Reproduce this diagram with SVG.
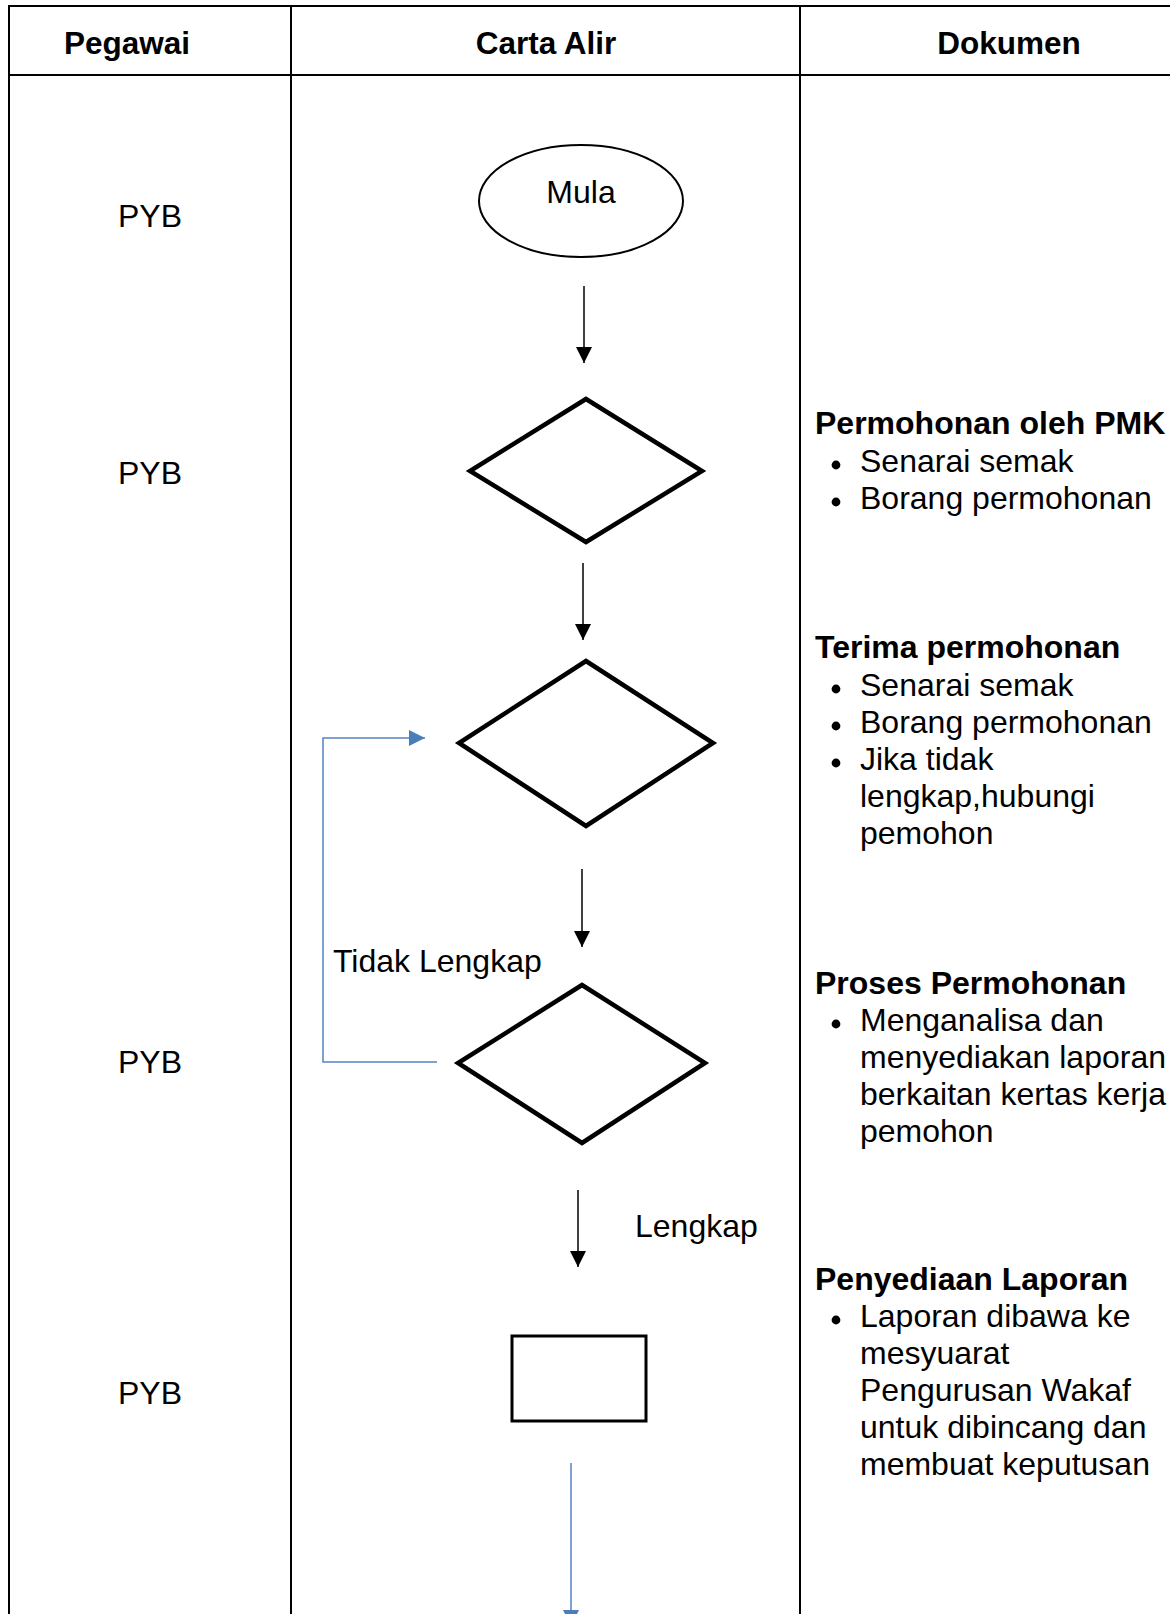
<svg xmlns="http://www.w3.org/2000/svg" width="1170" height="1614" viewBox="0 0 1170 1614">
<style>
  text { font-family: "Liberation Sans", Arial, sans-serif; font-size: 32px; fill: #000; }
  .hd { font-weight: bold; text-anchor: middle; font-size: 31.5px; }
  .b { font-weight: bold; }
  .mid { text-anchor: middle; }
  .grid { stroke: #000; stroke-width: 2; fill: none; }
  .shape { stroke: #000; stroke-width: 4.5; fill: #fff; stroke-linejoin: miter; }
  .conn { stroke: #000; stroke-width: 1.5; fill: none; }
  .blue { stroke: #5582c4; stroke-width: 1.5; fill: none; }
</style>
<defs>
  <marker id="ah" markerUnits="userSpaceOnUse" markerWidth="16" markerHeight="16" viewBox="0 0 16 16" refX="16" refY="8" orient="auto">
    <path d="M0,0 L16,8 L0,16 Z" fill="#000"/>
  </marker>
  <marker id="ahb" markerUnits="userSpaceOnUse" markerWidth="16" markerHeight="16" viewBox="0 0 16 16" refX="16" refY="8" orient="auto">
    <path d="M0,0 L16,8 L0,16 Z" fill="#4a7ebb"/>
  </marker>
</defs>
<rect width="1170" height="1614" fill="#fff"/>
<g id="table">
  <line class="grid" x1="8" y1="6" x2="1170" y2="6"/>
  <line class="grid" x1="8" y1="75" x2="1170" y2="75"/>
  <line class="grid" x1="9" y1="5" x2="9" y2="1614"/>
  <line class="grid" x1="291" y1="5" x2="291" y2="1614"/>
  <line class="grid" x1="800" y1="5" x2="800" y2="1614"/>
  <text class="hd" x="127" y="54">Pegawai</text>
  <text class="hd" x="546" y="54">Carta Alir</text>
  <text class="hd" x="1009" y="54">Dokumen</text>
</g>
<g id="pegawai">
  <text class="mid" x="150" y="227">PYB</text>
  <text class="mid" x="150" y="484">PYB</text>
  <text class="mid" x="150" y="1073">PYB</text>
  <text class="mid" x="150" y="1404">PYB</text>
</g>
<g id="mula">
  <ellipse cx="581" cy="201" rx="102" ry="56" fill="#fff" stroke="#000" stroke-width="2"/>
  <text class="mid" x="581" y="203">Mula</text>
</g>
<g id="diamond1">
  <polygon class="shape" points="586,399 702,471 586,542 470,471"/>
</g>
<g id="diamond2">
  <polygon class="shape" points="586,661 713,743 586,826 459,743"/>
</g>
<g id="diamond3">
  <polygon class="shape" points="582,985 705,1063 582,1143 458,1063"/>
</g>
<g id="process">
  <rect x="512" y="1336" width="134" height="85" fill="#fff" stroke="#000" stroke-width="3"/>
</g>
<g id="connectors">
  <line class="conn" x1="584" y1="286" x2="584" y2="363" marker-end="url(#ah)"/>
  <line class="conn" x1="583" y1="563" x2="583" y2="640" marker-end="url(#ah)"/>
  <line class="conn" x1="582" y1="869" x2="582" y2="947" marker-end="url(#ah)"/>
  <line class="conn" x1="578" y1="1190" x2="578" y2="1267" marker-end="url(#ah)"/>
  <polyline class="blue" points="437,1062 323,1062 323,738 425,738" marker-end="url(#ahb)"/>
  <line class="blue" x1="571" y1="1463" x2="571" y2="1626" marker-end="url(#ahb)"/>
  <text x="333" y="972">Tidak Lengkap</text>
  <text x="635" y="1237">Lengkap</text>
</g>
<g id="dokumen">
  <text class="b" x="815" y="434">Permohonan oleh PMK</text>
  <circle cx="836" cy="465" r="4.4"/>
  <text x="860" y="472">Senarai semak</text>
  <circle cx="836" cy="502" r="4.4"/>
  <text x="860" y="509">Borang permohonan</text>

  <text class="b" x="815" y="658">Terima permohonan</text>
  <circle cx="836" cy="689" r="4.4"/>
  <text x="860" y="696">Senarai semak</text>
  <circle cx="836" cy="726" r="4.4"/>
  <text x="860" y="733">Borang permohonan</text>
  <circle cx="836" cy="763" r="4.4"/>
  <text x="860" y="770">Jika tidak</text>
  <text x="860" y="807">lengkap,hubungi</text>
  <text x="860" y="844">pemohon</text>

  <text class="b" x="815" y="994">Proses Permohonan</text>
  <circle cx="836" cy="1024" r="4.4"/>
  <text x="860" y="1031">Menganalisa dan</text>
  <text x="860" y="1068">menyediakan laporan</text>
  <text x="860" y="1105">berkaitan kertas kerja</text>
  <text x="860" y="1142">pemohon</text>

  <text class="b" x="815" y="1290">Penyediaan Laporan</text>
  <circle cx="836" cy="1320" r="4.4"/>
  <text x="860" y="1327">Laporan dibawa ke</text>
  <text x="860" y="1364">mesyuarat</text>
  <text x="860" y="1401">Pengurusan Wakaf</text>
  <text x="860" y="1438">untuk dibincang dan</text>
  <text x="860" y="1475">membuat keputusan</text>
</g>
</svg>
